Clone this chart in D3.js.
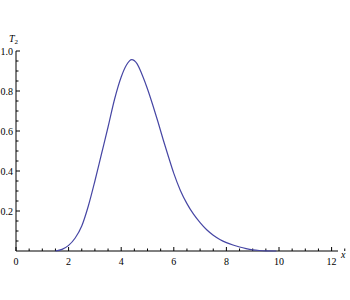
<!DOCTYPE html>
<html><head><meta charset="utf-8">
<script src="https://cdn.jsdelivr.net/npm/d3@7"></script>
<style>body{margin:0;background:#fff}svg{display:block}</style>
</head><body><svg id="c" width="350" height="300"></svg>
<script>
const xValues = [1.5, 1.75, 2.0, 2.25, 2.5, 2.75, 3.0, 3.25, 3.5, 3.75, 4.0, 4.2, 4.4, 4.6, 4.8, 5.0, 5.2, 5.4, 5.6, 5.8, 6.0, 6.25, 6.5, 6.75, 7.0, 7.25, 7.5, 7.75, 8.0, 8.25, 8.5, 8.75, 9.0, 9.25, 9.5, 9.9];
const yValues = [0, 0.008, 0.028, 0.065, 0.125, 0.225, 0.35, 0.485, 0.62, 0.76, 0.87, 0.93, 0.957, 0.937, 0.88, 0.81, 0.73, 0.645, 0.555, 0.47, 0.388, 0.303, 0.237, 0.184, 0.142, 0.106, 0.079, 0.058, 0.042, 0.03, 0.02, 0.012, 0.006, 0.0025, 0.0007, 0];
const xTickLabels = [0, 2, 4, 6, 8, 10, 12];
const yTickLabels = [0.2, 0.4, 0.6, 0.8, 1.0];
const xLabel = "x", yLabel = "T", yLabelSub = "2";

const FONT = "'Liberation Serif','Times New Roman','DejaVu Serif',serif";
const svg = d3.select("#c");
const x = d3.scaleLinear().domain([0, 12]).range([16, 331.6]);
const y = d3.scaleLinear().domain([0, 1]).range([251, 51]);

const g = svg.append("g");
g.append("line").attr("x1", x(0)).attr("x2", 338).attr("y1", y(0)).attr("y2", y(0)).attr("stroke", "#000").attr("stroke-width", 1);
g.append("line").attr("x1", x(0)).attr("x2", x(0)).attr("y1", y(0)).attr("y2", y(1)).attr("stroke", "#000").attr("stroke-width", 1);

d3.range(0, 12.76, 0.5).forEach(v => {
  const major = Math.abs(v / 2 - Math.round(v / 2)) < 1e-6;
  g.append("line").attr("x1", x(v)).attr("x2", x(v)).attr("y1", y(0)).attr("y2", y(0) - (major ? 4 : 2.5)).attr("stroke", "#000").attr("stroke-width", 1);
});
xTickLabels.forEach(v => {
  g.append("text").attr("x", x(v)).attr("y", 265).attr("text-anchor", "middle")
    .attr("font-family", FONT).attr("font-size", 10).text(v);
});
d3.range(0.05, 1.0001, 0.05).forEach(v => {
  const major = Math.abs(v / 0.2 - Math.round(v / 0.2)) < 1e-6;
  g.append("line").attr("x1", x(0)).attr("x2", x(0) + (major ? 4 : 2.5)).attr("y1", y(v)).attr("y2", y(v)).attr("stroke", "#000").attr("stroke-width", 1);
});
yTickLabels.forEach(v => {
  g.append("text").attr("x", 13).attr("y", y(v) + 3.5).attr("text-anchor", "end")
    .attr("font-family", FONT).attr("font-size", 10).text(d3.format(".1f")(v));
});
const tl = g.append("text").attr("x", 9).attr("y", 42).attr("font-family", FONT).attr("font-size", 10).attr("font-style", "italic");
tl.append("tspan").text(yLabel);
tl.append("tspan").attr("dy", 2).attr("font-size", 7).attr("font-style", "normal").text(yLabelSub);
g.append("text").attr("x", 341).attr("y", 258).attr("font-family", FONT).attr("font-size", 10).attr("font-style", "italic").text(xLabel);

const data = xValues.map((v, i) => [v, yValues[i]]);
const line = d3.line().x(d => x(d[0])).y(d => y(d[1])).curve(d3.curveMonotoneX);
g.append("path").datum(data).attr("d", line).attr("fill", "none").attr("stroke", "#4646a4").attr("stroke-width", 1.2);
</script></body></html>
